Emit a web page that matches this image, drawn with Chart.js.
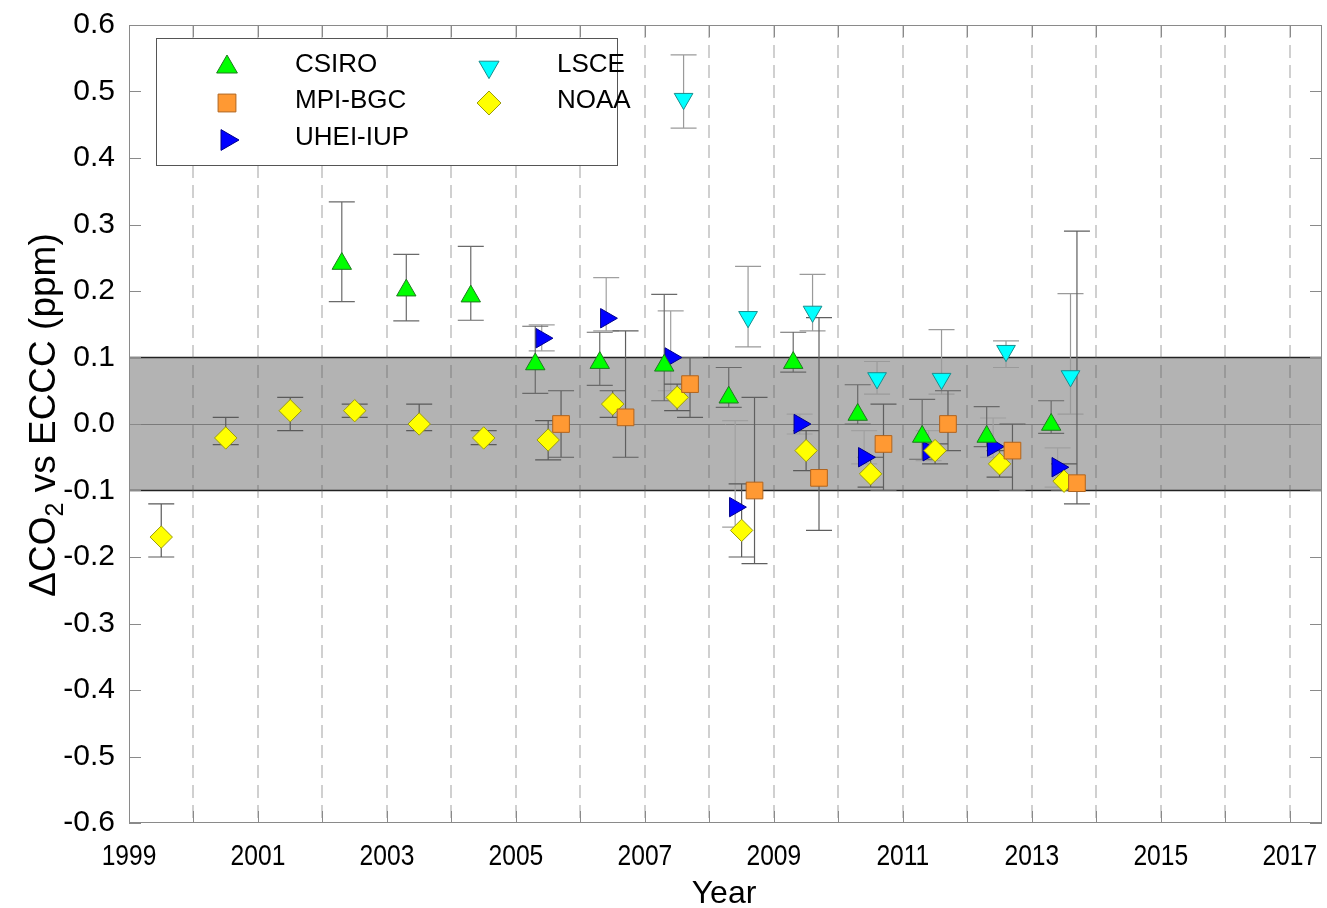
<!DOCTYPE html>
<html>
<head>
<meta charset="utf-8">
<script src="https://cdn.jsdelivr.net/npm/chart.js@4.4.0/dist/chart.umd.min.js"></script>
<style>
  html, body { margin: 0; padding: 0; background: #ffffff; }
  #wrap { width: 1327px; height: 908px; }
</style>
</head>
<body>
<div id="wrap"><canvas id="c" width="1327" height="908"></canvas></div>
<script>
// ---- axis ticks ----
const xTickYears = [1999, 2000, 2001, 2002, 2003, 2004, 2005, 2006, 2007, 2008, 2009, 2010, 2011, 2012, 2013, 2014, 2015, 2016, 2017];
const xLabelYears = [1999, 2001, 2003, 2005, 2007, 2009, 2011, 2013, 2015, 2017];
const yTickValues = [-0.6, -0.5, -0.4, -0.3, -0.2, -0.1, 0.0, 0.1, 0.2, 0.3, 0.4, 0.5, 0.6];
const bandLimits = [-0.1, 0.1];

// ---- CSIRO ----
const csiroYears = [2002.3, 2003.3, 2004.3, 2005.3, 2006.3, 2007.3, 2008.3, 2009.3, 2010.3, 2011.3, 2012.3, 2013.3];
const csiroValues = [0.241, 0.201, 0.192, 0.090, 0.092, 0.088, 0.040, 0.092, 0.014, -0.019, -0.019, -0.001];
const csiroHigh = [0.334, 0.255, 0.267, 0.147, 0.138, 0.195, 0.085, 0.138, 0.059, 0.037, 0.026, 0.035];
const csiroLow = [0.184, 0.155, 0.156, 0.046, 0.058, 0.035, 0.025, 0.078, 0.000, -0.053, -0.034, -0.014];

// ---- MPI-BGC ----
const mpiYears = [2005.7, 2006.7, 2007.7, 2008.7, 2009.7, 2010.7, 2011.7, 2012.7, 2013.7];
const mpiValues = [0.000, 0.010, 0.060, -0.100, -0.081, -0.030, 0.000, -0.040, -0.089];
const mpiHigh = [0.050, 0.140, 0.100, 0.040, 0.160, 0.030, 0.050, 0.000, 0.290];
const mpiLow = [-0.050, -0.050, 0.010, -0.210, -0.160, -0.100, -0.040, -0.100, -0.120];

// ---- UHEI-IUP ----
const uheiYears = [2005.4, 2006.4, 2007.4, 2008.4, 2009.4, 2010.4, 2011.4, 2012.4, 2013.4];
const uheiValues = [0.129, 0.159, 0.100, -0.125, 0.000, -0.050, -0.041, -0.034, -0.065];
const uheiHigh = [0.149, 0.220, 0.170, 0.005, 0.015, -0.010, -0.010, 0.009, -0.036];
const uheiLow = [0.110, 0.140, 0.050, -0.155, -0.015, -0.060, -0.055, -0.050, -0.095];

// ---- LSCE ----
const lsceYears = [2007.6, 2008.6, 2009.6, 2010.6, 2011.6, 2012.6, 2013.6];
const lsceValues = [0.489, 0.161, 0.169, 0.069, 0.068, 0.110, 0.072];
const lsceHigh = [0.555, 0.237, 0.225, 0.094, 0.142, 0.125, 0.196];
const lsceLow = [0.445, 0.116, 0.140, 0.045, 0.045, 0.085, 0.015];

// ---- NOAA ----
const noaaYears = [1999.5, 2000.5, 2001.5, 2002.5, 2003.5, 2004.5, 2005.5, 2006.5, 2007.5, 2008.5, 2009.5, 2010.5, 2011.5, 2012.5, 2013.5];
const noaaValues = [-0.170, -0.021, 0.020, 0.020, 0.000, -0.021, -0.024, 0.030, 0.040, -0.160, -0.040, -0.075, -0.040, -0.060, -0.086];
const noaaHigh = [-0.120, 0.010, 0.040, 0.030, 0.030, -0.010, 0.005, 0.050, 0.060, -0.090, -0.010, -0.050, -0.030, -0.040, -0.060];
const noaaLow = [-0.200, -0.031, -0.010, 0.010, -0.010, -0.031, -0.054, 0.010, 0.020, -0.200, -0.070, -0.095, -0.060, -0.080, -0.100];

const SANS = '"Liberation Sans", Arial, Helvetica, sans-serif';

function points(xs, ys) {
  return xs.map((x, i) => ({ x: x, y: ys[i] }));
}

// Chart.js paints dataset 0 last, so it ends up on top.
const datasets = [
  {
    label: 'MPI-BGC', data: points(mpiYears, mpiValues), errHigh: mpiHigh, errLow: mpiLow,
    pointStyle: 'rect', rotation: 0, radius: 11.8,
    backgroundColor: '#ff9933', borderColor: '#b0641e', errColor: '#5f5f5f'
  },
  {
    label: 'NOAA', data: points(noaaYears, noaaValues), errHigh: noaaHigh, errLow: noaaLow,
    pointStyle: 'rectRot', rotation: 0, radius: 11.2,
    backgroundColor: '#ffff00', borderColor: '#9a9a10', errColor: '#5a5a5a'
  },
  {
    label: 'LSCE', data: points(lsceYears, lsceValues), errHigh: lsceHigh, errLow: lsceLow,
    pointStyle: 'triangle', rotation: 180, radius: 10.8,
    backgroundColor: '#00ffff', borderColor: '#1a8c8c', errColor: '#9a9a9a'
  },
  {
    label: 'CSIRO', data: points(csiroYears, csiroValues), errHigh: csiroHigh, errLow: csiroLow,
    pointStyle: 'triangle', rotation: 0, radius: 11.2,
    backgroundColor: '#00ff00', borderColor: '#1f7a1f', errColor: '#6a6a6a'
  },
  {
    label: 'UHEI-IUP', data: points(uheiYears, uheiValues), errHigh: uheiHigh, errLow: uheiLow,
    pointStyle: 'triangle', rotation: 90, radius: 11.2,
    backgroundColor: '#0000ff', borderColor: '#00008b', errColor: '#a0a0a0'
  }
].map(d => Object.assign(d, {
  showLine: false,
  pointRotation: d.rotation,
  pointRadius: d.radius,
  pointHoverRadius: d.radius,
  pointBackgroundColor: d.backgroundColor,
  pointBorderColor: d.borderColor,
  pointBorderWidth: 1
}));

const legendOrder = [['CSIRO', 'MPI-BGC', 'UHEI-IUP'], ['LSCE', 'NOAA']];

const decorPlugin = {
  id: 'decor',
  // gray band, zero line, dashed year lines and error bars under the markers
  beforeDatasetsDraw(chart) {
    const { ctx, chartArea: a, scales: { x, y } } = chart;
    ctx.save();
    const yTop = y.getPixelForValue(bandLimits[1]);
    const yBot = y.getPixelForValue(bandLimits[0]);
    ctx.fillStyle = '#b3b3b3';
    ctx.fillRect(a.left, yTop, a.right - a.left, yBot - yTop);

    ctx.strokeStyle = '#7a7a7a';
    ctx.lineWidth = 1;
    const y0 = Math.round(y.getPixelForValue(0)) + 0.5;
    ctx.beginPath(); ctx.moveTo(a.left, y0); ctx.lineTo(a.right, y0); ctx.stroke();

    ctx.strokeStyle = '#222222';
    ctx.lineWidth = 1.3;
    ctx.beginPath();
    ctx.moveTo(a.left, yTop); ctx.lineTo(a.right, yTop);
    ctx.moveTo(a.left, yBot); ctx.lineTo(a.right, yBot);
    ctx.stroke();

    ctx.strokeStyle = 'rgba(85,85,85,0.28)';
    ctx.lineWidth = 2;
    ctx.setLineDash([13, 7]);
    xTickYears.forEach(yr => {
      if (yr === xTickYears[0]) return;
      const px = Math.round(x.getPixelForValue(yr));
      ctx.beginPath(); ctx.moveTo(px, a.top); ctx.lineTo(px, a.bottom); ctx.stroke();
    });
    ctx.setLineDash([]);

    ctx.lineWidth = 1.2;
    const cap = 13;
    chart.data.datasets.slice().reverse().forEach(ds => {
      ctx.strokeStyle = ds.errColor;
      ds.data.forEach((p, i) => {
        const px = x.getPixelForValue(p.x);
        const hi = y.getPixelForValue(ds.errHigh[i]);
        const lo = y.getPixelForValue(ds.errLow[i]);
        ctx.beginPath();
        ctx.moveTo(px, hi); ctx.lineTo(px, lo);
        ctx.moveTo(px - cap, hi); ctx.lineTo(px + cap, hi);
        ctx.moveTo(px - cap, lo); ctx.lineTo(px + cap, lo);
        ctx.stroke();
      });
    });
    ctx.restore();
  },
  afterDatasetsDraw(chart) {
    const { ctx, chartArea: a, scales: { x, y } } = chart;
    ctx.save();
    // frame with inward ticks on all four sides
    ctx.strokeStyle = '#8a8a8a';
    ctx.lineWidth = 1;
    ctx.strokeRect(Math.round(a.left) + 0.5, Math.round(a.top) + 0.5,
      Math.round(a.right - a.left) - 1, Math.round(a.bottom - a.top) - 1);
    const tick = 12;
    ctx.beginPath();
    xTickYears.forEach(yr => {
      const px = Math.round(x.getPixelForValue(yr)) + 0.5;
      ctx.moveTo(px, a.bottom); ctx.lineTo(px, a.bottom - tick);
      ctx.moveTo(px, a.top); ctx.lineTo(px, a.top + tick);
    });
    yTickValues.forEach(v => {
      const py = Math.round(y.getPixelForValue(v)) + 0.5;
      ctx.moveTo(a.left, py); ctx.lineTo(a.left + tick, py);
      ctx.moveTo(a.right, py); ctx.lineTo(a.right - tick, py);
    });
    ctx.stroke();

    // legend box, two columns
    const bx = 156.5, by = 38.5, bw = 461, bh = 127;
    ctx.fillStyle = '#ffffff';
    ctx.fillRect(bx, by, bw, bh);
    ctx.strokeStyle = '#555555';
    ctx.strokeRect(bx, by, bw, bh);
    const colMarker = [227, 489];
    const colText = [295, 557];
    const rowY = [65, 101, 138];
    ctx.font = '26px ' + SANS;
    ctx.textBaseline = 'middle';
    ctx.textAlign = 'left';
    legendOrder.forEach((col, ci) => {
      col.forEach((name, ri) => {
        const ds = chart.data.datasets.find(d => d.label === name);
        ctx.fillStyle = ds.backgroundColor;
        ctx.strokeStyle = ds.borderColor;
        ctx.lineWidth = 1;
        Chart.helpers.drawPoint(ctx, {
          pointStyle: ds.pointStyle, rotation: ds.rotation,
          radius: ds.radius + 0.8, borderWidth: 1
        }, colMarker[ci], rowY[ri] + 2);
        ctx.fillStyle = '#000000';
        ctx.fillText(name, colText[ci], rowY[ri]);
      });
    });
    ctx.restore();
  },
  afterDraw(chart) {
    const { ctx, scales: { x } } = chart;
    ctx.save();
    ctx.fillStyle = '#000000';
    // narrow year labels under the x axis
    ctx.font = '30px ' + SANS;
    ctx.textAlign = 'center';
    ctx.textBaseline = 'alphabetic';
    xLabelYears.forEach(yr => {
      const px = x.getPixelForValue(yr);
      ctx.save();
      ctx.translate(px, 865);
      ctx.scale(0.82, 1);
      ctx.fillText(String(yr), 0, 0);
      ctx.restore();
    });
    // x title
    ctx.font = '32px ' + SANS;
    ctx.fillText('Year', 724, 903);
    // y title with subscript
    const big = '37px ' + SANS, small = '25px ' + SANS;
    const parts = [['\u0394CO', big, 0], ['2', small, 8], [' vs ECCC (ppm)', big, 0]];
    let total = 0;
    parts.forEach(p => { ctx.font = p[1]; total += ctx.measureText(p[0]).width; });
    ctx.translate(55, 415);
    ctx.rotate(-Math.PI / 2);
    ctx.textAlign = 'left';
    let cx = -total / 2;
    parts.forEach(p => {
      ctx.font = p[1];
      ctx.fillText(p[0], cx, p[2]);
      cx += ctx.measureText(p[0]).width;
    });
    ctx.restore();
  }
};

new Chart(document.getElementById('c'), {
  type: 'scatter',
  data: { datasets: datasets },
  options: {
    responsive: false,
    devicePixelRatio: 1,
    animation: false,
    events: [],
    layout: { autoPadding: false, padding: { top: 25, right: 5, left: 0, bottom: 0 } },
    plugins: { legend: { display: false }, tooltip: { enabled: false } },
    scales: {
      x: {
        type: 'linear', min: 1999, max: 2017.5,
        grid: { display: false, drawTicks: false },
        border: { display: false },
        afterBuildTicks(s) { s.ticks = xTickYears.map(v => ({ value: v })); },
        afterFit(s) { s.height = 85; s.paddingLeft = 0; s.paddingRight = 0; },
        ticks: { display: false }
      },
      y: {
        type: 'linear', min: -0.6, max: 0.6,
        grid: { display: false, drawTicks: false },
        border: { display: false },
        afterBuildTicks(s) { s.ticks = yTickValues.map(v => ({ value: v })); },
        afterFit(s) { s.width = 129; s.paddingTop = 0; s.paddingBottom = 0; },
        ticks: {
          autoSkip: false, padding: 14, color: '#000000',
          font: { family: SANS, size: 30 },
          callback: v => v.toFixed(1)
        }
      }
    }
  },
  plugins: [decorPlugin]
});
</script>
</body>
</html>
